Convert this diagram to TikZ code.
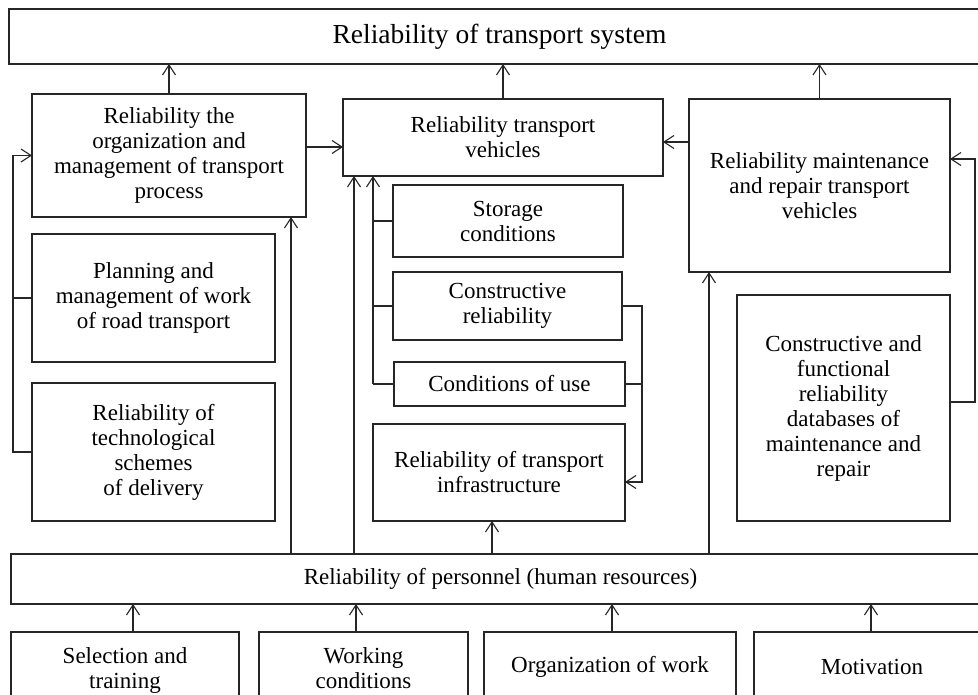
\documentclass[tikz,border=0pt]{standalone}
\usepackage{fontspec}
\setmainfont{Liberation Serif}
\usetikzlibrary{arrows.meta}
\tikzset{
 box/.style={draw=black!85, line width=1.1pt, anchor=north west, inner sep=0pt, outer sep=0pt, align=center, font=\fontsize{23}{25}\selectfont},
 conn/.style={draw=black!85, line width=1.1pt},
 arr/.style={conn, -{Straight Barb[length=10pt,width=13pt,line width=1.1pt]}},
}
\begin{document}
\begin{tikzpicture}[x=1pt,y=1pt]
\useasboundingbox (0,0) rectangle (978,-695);
\clip (0,0) rectangle (978,-695);
% boxes
\node[box, minimum width=981, minimum height=55, font=\fontsize{27.5}{30}\selectfont] (top) at (9,-9) {Reliability of transport system};
\node[box, minimum width=274, minimum height=123] (A) at (32,-94) {Reliability the\\organization and\\management of transport\\process};
\node[box, minimum width=320, minimum height=77] (B) at (343,-99) {Reliability transport\\vehicles};
\node[box, minimum width=261, minimum height=173] (C) at (689,-99) {Reliability maintenance\\and repair transport\\vehicles};
\node[box, minimum width=243, minimum height=128] (P) at (32,-234) {Planning and\\management of work\\of road transport};
\node[box, minimum width=243, minimum height=138] (T) at (32,-383) {Reliability of\\technological\\schemes\\of delivery};
\node[box, minimum width=230, minimum height=72] (S) at (393,-185) {Storage\\conditions};
\node[box, minimum width=229, minimum height=68] (CR) at (393,-272) {Constructive\\reliability};
\node[box, minimum width=231, minimum height=44] (CU) at (394,-362) {Conditions of use};
\node[box, minimum width=252, minimum height=97] (I) at (373,-424) {Reliability of transport\\infrastructure};
\node[box, minimum width=213, minimum height=226] (E) at (737,-295) {Constructive and\\functional\\reliability\\databases of\\maintenance and\\repair};
\node[box, minimum width=979, minimum height=50] (Pers) at (11,-554) {Reliability of personnel (human resources)};
\node[box, minimum width=228, minimum height=76] (B1) at (11,-632) {Selection and\\training};
\node[box, minimum width=209, minimum height=72] (B2) at (259,-632) {Working\\conditions};
\node[box, minimum width=252, minimum height=70] (B3) at (484,-632) {Organization of work};
\node[box, minimum width=236, minimum height=70] (B4) at (754,-632) {Motivation};
% helper coordinates
\coordinate (yab) at (0,-147);
\coordinate (ycb) at (0,-142);
\coordinate (xl) at (13,0);
\coordinate (x291) at (291,0);
\coordinate (x354) at (354,0);
\coordinate (x373) at (373,0);
\coordinate (xr) at (642,0);
\coordinate (yi) at (0,-482);
\coordinate (x492) at (492,0);
\coordinate (x709) at (709,0);
\coordinate (xrr) at (975,0);
\coordinate (ye) at (0,-402);
\coordinate (yc) at (0,-159);
\coordinate (xb1) at (133,0);
\coordinate (xb2) at (356,0);
\coordinate (xb3) at (612,0);
\coordinate (xb4) at (871,0);
% connectors
\draw[arr] (A.north) -- (A.north |- top.south);
\draw[arr] (B.north) -- (B.north |- top.south);
\draw[arr] (C.north) -- (C.north |- top.south);
\draw[arr] (A.east |- yab) -- (B.west |- yab);
\draw[arr] (C.west |- ycb) -- (B.east |- ycb);
\draw[arr] (T.west) -- (T.west -| xl) -- (xl |- A.west) -- (A.west);
\draw[conn] (P.west) -- (P.west -| xl);
\draw[arr] (Pers.north -| x291) -- (A.south -| x291);
\draw[arr] (Pers.north -| x354) -- (B.south -| x354);
\draw[arr] (CU.west -| x373) -- (B.south -| x373);
\draw[conn] (S.west) -- (S.west -| x373);
\draw[conn] (CR.west) -- (CR.west -| x373);
\draw[conn] (CU.west) -- (CU.west -| x373);
\draw[arr] (CR.east) -- (CR.east -| xr) -- (xr |- yi) -- (I.east |- yi);
\draw[conn] (CU.east) -- (CU.east -| xr);
\draw[arr] (Pers.north -| x492) -- (I.south -| x492);
\draw[arr] (Pers.north -| x709) -- (C.south -| x709);
\draw[arr] (E.east |- ye) -- (xrr |- ye) -- (xrr |- yc) -- (C.east |- yc);
\draw[arr] (B1.north -| xb1) -- (Pers.south -| xb1);
\draw[arr] (B2.north -| xb2) -- (Pers.south -| xb2);
\draw[arr] (B3.north -| xb3) -- (Pers.south -| xb3);
\draw[arr] (B4.north -| xb4) -- (Pers.south -| xb4);
\end{tikzpicture}
\end{document}
